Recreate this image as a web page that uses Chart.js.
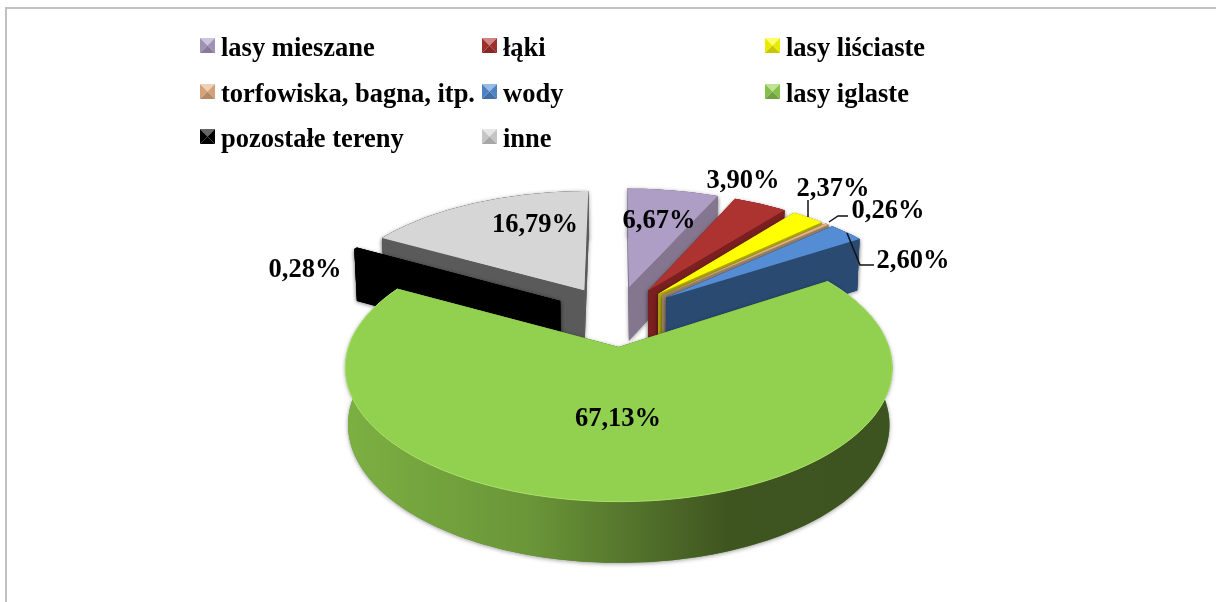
<!DOCTYPE html>
<html lang="pl">
<head>
<meta charset="utf-8">
<title>Struktura terenu</title>
<script src="https://cdn.jsdelivr.net/npm/chart.js@4"></script>
<style>
  html, body { margin: 0; background: #fff; overflow: hidden; }
  #wrap { position: relative; width: 1216px; height: 602px; overflow: hidden; }
  #frame { position: absolute; left: 5px; top: 7px; width: 1300px; height: 700px; border: 2px solid #c0c0c0; }
  canvas { position: absolute; left: 0; top: 0; }
</style>
</head>
<body>
<div id="wrap">
  <div id="frame"></div>
  <canvas id="chart" width="1216" height="602"></canvas>
</div>
<script>
const categories = ["lasy mieszane", "łąki", "lasy liściaste", "torfowiska, bagna, itp.", "wody", "lasy iglaste", "pozostałe tereny", "inne"];
const shares = [6.67, 3.90, 2.37, 0.26, 2.60, 67.13, 0.28, 16.79];
const topColors = ["#ae9ec6", "#ad3331", "#ffff00", "#e6b083", "#548dd4", "#92d050", "#000000", "#d6d6d6"];
const wallColors = ["#85768f", "#7a2020", "#b5ad10", "#9a8468", "#2b4a72", "#5f8a32", "#000000", "#5a5a5a"];

// back to front
const paintOrder = [0, 1, 2, 3, 4, 7, 6, 5];

// one perspective view for the whole pie
const view = { cx: 616, cy: 315.5, sx: 260, sy: 121, persp: 0.15, explode: 0.25 };
const font = "bold 26.5px 'Liberation Serif'";

const legendCols = [200, 482, 765];
const legendRows = [38, 84, 129];
const labelSpots = [[659, 221], [743, 181], [833, 189], [888, 211], [913, 261], [618, 419], [305, 270], [535, 225]];
const leaders = [
  [[808, 200], [808, 217]],
  [[829, 222], [838, 216], [848, 216]],
  [[847, 233], [860, 265], [874, 265]]
];

function project(u, v, low) {
  const w = 1 - view.persp * v;
  let x = view.cx + view.sx * u / w;
  let y = view.cy + view.sy * v / w;
  if (low) {
    x = view.cx + (x - view.cx) * 0.99;
    y += 55 + 5 * v;
  }
  return [x, y];
}

function fillPoly(ctx, pts, color) {
  ctx.beginPath();
  pts.forEach((p, i) => (i ? ctx.lineTo(p[0], p[1]) : ctx.moveTo(p[0], p[1])));
  ctx.closePath();
  ctx.fillStyle = color;
  ctx.fill();
}

function sliceGeometry(arc) {
  const mid = (arc.startAngle + arc.endAngle) / 2;
  const ox = Math.cos(mid) * view.explode;
  const oy = Math.sin(mid) * view.explode;
  const rim = [];
  const steps = Math.max(2, Math.ceil((arc.endAngle - arc.startAngle) * 40));
  for (let i = 0; i <= steps; i++) {
    const a = arc.startAngle + (arc.endAngle - arc.startAngle) * i / steps;
    rim.push([ox + Math.cos(a), oy + Math.sin(a)]);
  }
  return { apex: [ox, oy], rim };
}

function greenGradient(ctx) {
  const g = ctx.createLinearGradient(345, 0, 893, 0);
  g.addColorStop(0, "#7cb042");
  g.addColorStop(0.34, "#6a9538");
  g.addColorStop(0.58, "#4d6a28");
  g.addColorStop(0.7, "#3f5520");
  g.addColorStop(1, "#3c5420");
  return g;
}

function drawSlice(ctx, arc, index) {
  const { apex, rim } = sliceGeometry(arc);
  const top = (p) => project(p[0], p[1], false);
  const low = (p) => project(p[0], p[1], true);
  const first = rim[0];
  const last = rim[rim.length - 1];
  const far = first[1] < last[1] ? first : last;
  const near = far === first ? last : first;
  const wall = index === 5 ? greenGradient(ctx) : wallColors[index];
  const radial = (p) => [top(apex), top(p), low(p), low(apex)];
  const outer = rim.map(top).concat(rim.map(low).reverse());

  // soft shadow first, clean walls over it
  ctx.save();
  ctx.shadowColor = "rgba(0,0,0,0.4)";
  ctx.shadowBlur = 4;
  ctx.shadowOffsetY = 1;
  fillPoly(ctx, radial(far), wallColors[index]);
  fillPoly(ctx, outer, wallColors[index]);
  fillPoly(ctx, radial(near), wallColors[index]);
  ctx.restore();

  fillPoly(ctx, radial(far), wallColors[index]);
  fillPoly(ctx, outer, wall);
  fillPoly(ctx, radial(near), wallColors[index]);
  fillPoly(ctx, [top(apex)].concat(rim.map(top)), topColors[index]);

  if (index === 5) {
    ctx.beginPath();
    rim.map(top).forEach((p, i) => (i ? ctx.lineTo(p[0], p[1]) : ctx.moveTo(p[0], p[1])));
    ctx.strokeStyle = "#a9e066";
    ctx.lineWidth = 1;
    ctx.stroke();
  }
}

function shade(hex, amount) {
  const n = parseInt(hex.slice(1), 16);
  const mix = (c) => Math.round(amount > 0 ? c + (255 - c) * amount : c * (1 + amount));
  return `rgb(${mix(n >> 16)},${mix((n >> 8) & 255)},${mix(n & 255)})`;
}

function drawSwatch(ctx, x, y, color) {
  const s = 15;
  const c = [x + s / 2, y + s / 2];
  fillPoly(ctx, [[x, y], [x + s, y], c], shade(color, 0.4));
  fillPoly(ctx, [[x, y], [x, y + s], c], shade(color, -0.08));
  fillPoly(ctx, [[x + s, y], [x + s, y + s], c], shade(color, -0.08));
  fillPoly(ctx, [[x, y + s], [x + s, y + s], c], shade(color, -0.22));
}

const pie3d = {
  id: "pie3d",
  beforeDatasetDraw() {
    return false; // flat arcs replaced by the projected ones below
  },
  afterDatasetsDraw(chart) {
    const ctx = chart.ctx;
    const arcs = chart.getDatasetMeta(0).data;
    paintOrder.forEach((i) => drawSlice(ctx, arcs[i], i));

    ctx.save();
    ctx.strokeStyle = "#111";
    ctx.lineWidth = 1.5;
    leaders.forEach((line) => {
      ctx.beginPath();
      line.forEach((p, i) => (i ? ctx.lineTo(p[0], p[1]) : ctx.moveTo(p[0], p[1])));
      ctx.stroke();
    });

    ctx.font = font;
    ctx.fillStyle = "#000";
    ctx.textBaseline = "middle";
    ctx.textAlign = "center";
    shares.forEach((value, i) => {
      ctx.fillText(value.toFixed(2).replace(".", ",") + "%", labelSpots[i][0], labelSpots[i][1]);
    });

    ctx.textAlign = "left";
    categories.forEach((name, i) => {
      const x = legendCols[i % 3];
      const y = legendRows[Math.floor(i / 3)];
      drawSwatch(ctx, x, y, topColors[i]);
      ctx.fillStyle = "#000";
      ctx.fillText(name, x + 21, y + 11);
    });
    ctx.restore();
  }
};

new Chart(document.querySelector("#chart"), {
  type: "pie",
  data: { labels: categories, datasets: [{ data: shares, backgroundColor: topColors, borderWidth: 0 }] },
  options: {
    responsive: false,
    animation: false,
    rotation: 0,
    plugins: { legend: { display: false }, tooltip: { enabled: false } }
  },
  plugins: [pie3d]
});
</script>
</body>
</html>
